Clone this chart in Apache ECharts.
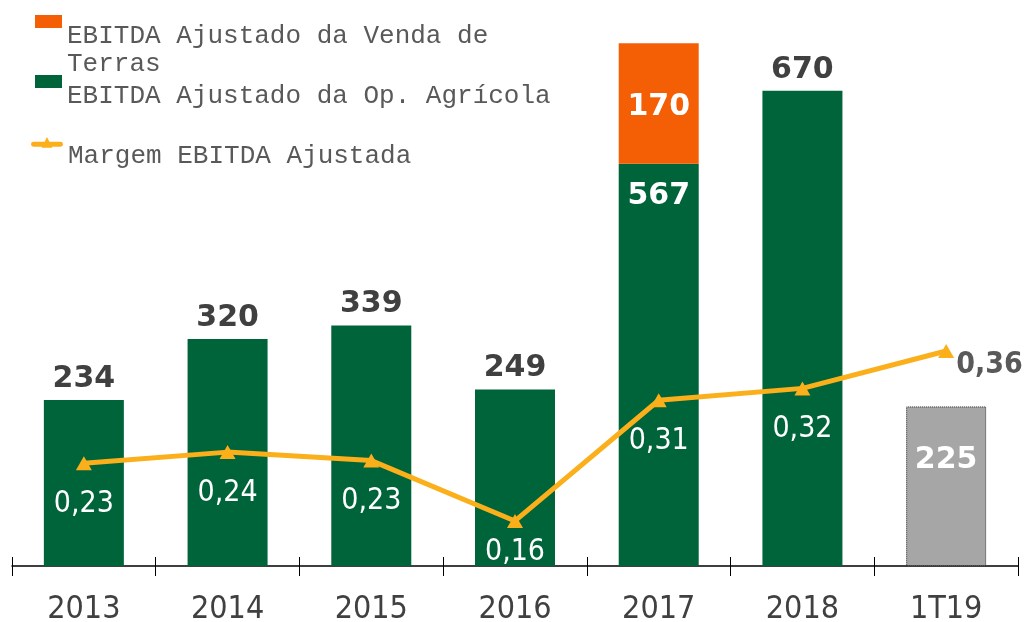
<!DOCTYPE html>
<html>
<head>
<meta charset="utf-8">
<script src="https://cdn.jsdelivr.net/npm/echarts@6/dist/echarts.min.js"></script>
<style>
  html, body { margin: 0; padding: 0; background: #fff; }
  #chart { width: 1027px; height: 622px; }
</style>
</head>
<body>
<div id="chart"></div>
<script>
// categories
var aYears = ['2013', '2014', '2015', '2016', '2017', '2018', '1T19']
// EBITDA ajustado da op. agricola (R$ mi)
var aAgricola = [234, 320, 339, 249, 567, 670, 225]
// EBITDA ajustado da venda de terras
var aTerras = [null, null, null, null, 170, null, null]
// margem EBITDA ajustada (plotted), with the printed labels
var aMargem = [0.228, 0.241, 0.231, 0.16, 0.302, 0.316, 0.36]
var aMargemTxt = ['0,23', '0,24', '0,23', '0,16', '0,31', '0,32', '0,36']

var sGreen = '#00643A'
var sOrange = '#F45F06'
var sGold = '#FBAF1B'
var sDark = '#404040'

var oChart = echarts.init(document.getElementById('chart'))

var aAgriData = []
for (var i = 0; i < aAgricola.length; i++) {
  var item = { value: aAgricola[i] }
  if (aYears[i] === '2017') {
    item.label = { position: 'insideTop', distance: 17, color: '#fff' }
  }
  if (aYears[i] === '1T19') {
    item.itemStyle = { color: '#A6A6A6', borderColor: '#222', borderWidth: 1, borderType: 'dotted' }
    item.label = { position: 'insideTop', distance: 39, color: '#fff' }
  }
  aAgriData.push(item)
}

var aMargemData = []
for (var j = 0; j < aMargem.length; j++) {
  var pt = { value: aMargem[j] }
  if (j === 3) {
    pt.label = { distance: 9 }
  }
  if (j === aMargem.length - 1) {
    pt.label = { position: 'right', distance: 2, offset: [0, 14], color: '#595959', fontWeight: 'bold' }
  }
  aMargemData.push(pt)
}

// legend icons: the visible mark sits at the top, a speck at the bottom
// sets the item height so the text lands below the icon like the original
var legendText = {
  fontFamily: 'Liberation Mono',
  fontSize: 26,
  color: '#595959',
  lineHeight: 28
}

var opt = {
  animation: false,
  grid: { left: 12, right: 9, top: 0, bottom: 56, outerBoundsMode: 'none' },
  legend: [
    {
      data: ['EBITDA Ajustado da Venda de\nTerras'],
      left: 35, top: 15, padding: 0,
      icon: 'path://M0,0H27V13H0Z M0,70.99h0.01v0.01h-0.01Z',
      itemWidth: 27, itemHeight: 71, itemGap: 5,
      textStyle: legendText
    },
    {
      data: ['EBITDA Ajustado da Op. Agrícola'],
      left: 35, top: 75, padding: 0,
      icon: 'path://M0,0H27V13H0Z M0,41.99h0.01v0.01h-0.01Z',
      itemWidth: 27, itemHeight: 42, itemGap: 5,
      textStyle: legendText
    },
    {
      data: ['Margem EBITDA Ajustada'],
      left: 31, top: 137, padding: 0,
      icon: 'path://M2,5H30A2.5,2.5,0,0,1,30,10H2A2.5,2.5,0,0,1,2,5Z M16,0L21.5,11H10.5Z M0,38.99h0.01v0.01h-0.01Z',
      itemWidth: 32, itemHeight: 39, itemGap: 4,
      textStyle: legendText
    }
  ],
  xAxis: [
    {
      type: 'category',
      data: aYears,
      axisLine: { lineStyle: { color: '#000', width: 1.5 } },
      axisTick: { show: true, length: 10, lineStyle: { color: '#000' } },
      axisLabel: {
        margin: 28,
        fontFamily: 'DejaVu Sans Condensed',
        fontSize: 32,
        color: sDark
      }
    },
    {
      type: 'category',
      data: aYears,
      position: 'bottom',
      axisLine: { show: false },
      axisTick: { show: true, inside: true, length: 9, lineStyle: { color: '#000' } },
      axisLabel: { show: false }
    }
  ],
  yAxis: [
    { type: 'value', min: 0, max: 798, show: false },
    { type: 'value', min: 0.107, max: 0.773, show: false }
  ],
  series: [
    {
      name: 'EBITDA Ajustado da Op. Agrícola',
      type: 'bar',
      stack: 'ebitda',
      barWidth: 80,
      itemStyle: { color: sGreen },
      label: {
        show: true,
        position: 'top',
        distance: 6,
        fontFamily: 'DejaVu Sans',
        fontWeight: 'bold',
        fontSize: 30,
        color: sDark
      },
      data: aAgriData
    },
    {
      name: 'EBITDA Ajustado da Venda de\nTerras',
      type: 'bar',
      stack: 'ebitda',
      barWidth: 80,
      itemStyle: { color: sOrange },
      label: {
        show: true,
        position: 'inside',
        offset: [0, 4],
        fontFamily: 'DejaVu Sans',
        fontWeight: 'bold',
        fontSize: 30,
        color: '#fff'
      },
      data: aTerras
    },
    {
      name: 'Margem EBITDA Ajustada',
      type: 'line',
      yAxisIndex: 1,
      z: 5,
      symbol: 'triangle',
      symbolSize: [16, 14],
      lineStyle: { color: sGold, width: 5 },
      itemStyle: { color: sGold },
      label: {
        show: true,
        position: 'bottom',
        distance: 19,
        fontFamily: 'DejaVu Sans Condensed',
        fontSize: 30,
        color: '#fff',
        formatter: function (p) { return aMargemTxt[p.dataIndex] }
      },
      data: aMargemData
    }
  ]
}

oChart.setOption(opt)
</script>
</body>
</html>
